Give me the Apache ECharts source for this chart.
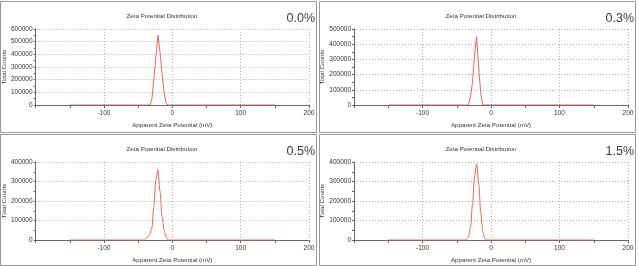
<!DOCTYPE html>
<html>
<head>
<meta charset="utf-8">
<script src="https://cdn.jsdelivr.net/npm/echarts@6/dist/echarts.min.js"></script>
<style>
  html, body { margin: 0; padding: 0; background: #fff; }
  #chart { width: 639px; height: 266px; }
</style>
</head>
<body>
<div id="chart"></div>
<script>
const zetaX = [-150, -42, -39, -36, -33, -30, -27, -24, -21, -18, -15, -12, -9, -6, -3, 150];
const counts00 = [0, 0, 0, 0, 0, 40000, 200000, 380000, 550000, 420000, 250000, 100000, 10000, 0, 0, 0];
const counts03 = [0, 0, 0, 0, 0, 50000, 150000, 330000, 450000, 250000, 75000, 0, 0, 0, 0, 0];
const counts05 = [0, 0, 8000, 15000, 30000, 60000, 170000, 310000, 360000, 250000, 120000, 50000, 15000, 0, 0, 0];
const counts15 = [0, 0, 0, 2000, 14000, 62000, 180000, 330000, 390000, 293000, 142000, 44000, 8000, 0, 0, 0];
const panelLabels = ['0.0%', '0.3%', '0.5%', '1.5%'];
const yMaxes = [600000, 500000, 400000, 400000];
const xTicks = [-200, -100, 0, 100, 200];

const panelCounts = [counts00, counts03, counts05, counts15];
// panel origins (left, top) and plot heights
const panels = [
  { ox: 0, oy: 1, top: 29, h: 76 },
  { ox: 319, oy: 1, top: 29, h: 76 },
  { ox: 0, oy: 134, top: 162, h: 78 },
  { ox: 319, oy: 134, top: 162, h: 78 }
];

const font = 'Liberation Sans, Arial, sans-serif';
const chart = echarts.init(document.getElementById('chart'));

let grids = [], xAxes = [], yAxes = [], series = [], titles = [], graphics = [];

panels.forEach((p, i) => {
  grids.push({ left: p.ox + 35, top: p.top, width: 274, height: p.h, containLabel: false });

  xAxes.push({
    gridIndex: i, type: 'value', min: xTicks[0], max: xTicks[xTicks.length - 1], interval: 100,
    name: 'Apparent Zeta Potential (mV)', nameLocation: 'middle', nameGap: 17,
    nameTextStyle: { fontSize: 6.2, color: '#333', fontFamily: font },
    axisLine: { onZero: false, lineStyle: { color: '#666', width: 1 } },
    axisTick: { show: true, length: 3, lineStyle: { color: '#666' } },
    minorTick: { show: true, splitNumber: 2, length: 3, lineStyle: { color: '#666' } },
    axisLabel: { showMinLabel: false, fontSize: 6.5, color: '#333', fontFamily: font, margin: 5 },
    splitLine: { show: true, lineStyle: { type: [1, 2], color: '#b0b0b0', width: 1 } }
  });

  yAxes.push({
    gridIndex: i, type: 'value', min: 0, max: yMaxes[i], interval: 100000,
    name: 'Total Counts', nameLocation: 'middle', nameGap: 27,
    nameTextStyle: { fontSize: 6.2, color: '#333', fontFamily: font },
    axisLine: { show: true, onZero: false, lineStyle: { color: '#666', width: 1 } },
    axisTick: { show: true, length: 2, lineStyle: { color: '#666' } },
    minorTick: { show: true, splitNumber: 2, length: 2, lineStyle: { color: '#666' } },
    axisLabel: { fontSize: 6.5, color: '#333', fontFamily: font, margin: 3, formatter: v => String(v) },
    splitLine: { show: true, lineStyle: { type: [1, 2], color: '#b0b0b0', width: 1 } }
  });

  series.push({
    type: 'line', xAxisIndex: i, yAxisIndex: i,
    data: zetaX.map((x, k) => [x, panelCounts[i][k]]),
    showSymbol: false, smooth: i >= 2 ? 0.3 : false, smoothMonotone: 'x',
    lineStyle: { color: '#f0654e', width: 1 },
    animation: false
  });

  titles.push({
    text: 'Zeta Potential Distribution',
    left: p.ox + 157, top: p.oy + 7, textAlign: 'center',
    textStyle: { fontSize: 6.2, fontWeight: 'normal', color: '#333', fontFamily: font }
  });
  titles.push({
    text: panelLabels[i],
    left: p.ox + 310, top: p.oy + 6, textAlign: 'right',
    textStyle: { fontSize: 12.5, fontWeight: 'normal', color: '#3a3a3a', fontFamily: font }
  });

  graphics.push({
    type: 'rect', silent: true,
    shape: { x: p.ox + 0.5, y: p.oy + 0.5, width: 316, height: 131 },
    style: { fill: 'none', stroke: '#999', lineWidth: 1 }
  });
});

chart.setOption({
  animation: false,
  title: titles,
  grid: grids,
  xAxis: xAxes,
  yAxis: yAxes,
  series: series,
  graphic: graphics
});
</script>
</body>
</html>
